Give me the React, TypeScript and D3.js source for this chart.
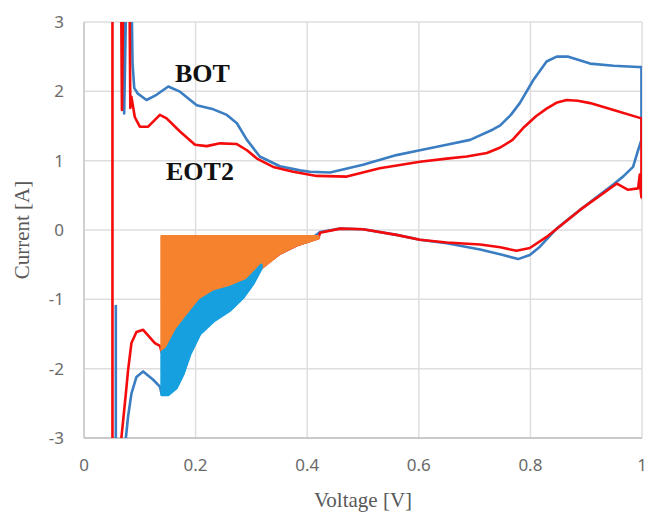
import React from "react";
import * as d3 from "d3";

// ---- Data ----
const xTicks = [0, 0.2, 0.4, 0.6, 0.8, 1];
const xTickLabels = ["0", "0.2", "0.4", "0.6", "0.8", "1"];
const yTicks = [-3, -2, -1, 0, 1, 2, 3];
const yTickLabels = ["-3", "-2", "-1", "0", "1", "2", "3"];

// EOT2 (red) full loop, trace order
const redV = [0.051, 0.051, 0.066, 0.068, 0.071, 0.081, 0.083, 0.085, 0.091, 0.1, 0.115, 0.136, 0.148, 0.172, 0.199, 0.22, 0.244, 0.274, 0.292, 0.31, 0.339, 0.375, 0.417, 0.471, 0.53, 0.602, 0.65, 0.686, 0.722, 0.746, 0.768, 0.787, 0.81, 0.829, 0.848, 0.865, 0.885, 0.907, 0.949, 0.999, 0.999, 0.997, 0.996, 0.993, 0.975, 0.955, 0.889, 0.829, 0.799, 0.775, 0.746, 0.71, 0.65, 0.602, 0.56, 0.5, 0.459, 0.423, 0.42, 0.381, 0.351, 0.321, 0.292, 0.262, 0.232, 0.208, 0.184, 0.166, 0.148, 0.139, 0.136, 0.127, 0.106, 0.094, 0.085, 0.079, 0.075, 0.067, 0.062];
const redI = [-4, 4, 4, 1.73, 4, 4, 1.76, 1.92, 1.63, 1.49, 1.49, 1.66, 1.61, 1.42, 1.23, 1.21, 1.25, 1.24, 1.15, 1.03, 0.91, 0.84, 0.78, 0.77, 0.89, 0.985, 1.03, 1.06, 1.11, 1.19, 1.3, 1.47, 1.64, 1.75, 1.84, 1.875, 1.865, 1.83, 1.73, 1.61, 0.47, 0.62, 0.8, 0.6, 0.58, 0.67, 0.29, -0.1, -0.26, -0.3, -0.25, -0.21, -0.18, -0.14, -0.07, 0.01, 0.02, -0.04, -0.12, -0.22, -0.34, -0.53, -0.72, -0.82, -0.89, -1.01, -1.25, -1.44, -1.71, -1.76, -1.67, -1.63, -1.44, -1.47, -1.63, -2.02, -2.36, -3.0, -4];

// BOT (blue): initial spike, then the full loop in trace order
const blueSpikeV = [0.057, 0.057];
const blueSpikeI = [-1.08, -4];
const blueV = [0.07, 0.072, 0.077, 0.084, 0.087, 0.09, 0.096, 0.112, 0.13, 0.151, 0.172, 0.202, 0.232, 0.256, 0.274, 0.292, 0.315, 0.351, 0.387, 0.405, 0.441, 0.5, 0.56, 0.602, 0.65, 0.692, 0.733, 0.746, 0.765, 0.781, 0.805, 0.829, 0.847, 0.868, 0.907, 0.949, 0.993, 0.999, 0.999, 0.993, 0.984, 0.966, 0.949, 0.889, 0.847, 0.817, 0.799, 0.778, 0.751, 0.71, 0.65, 0.602, 0.56, 0.5, 0.459, 0.423, 0.4, 0.381, 0.351, 0.33, 0.318, 0.303, 0.286, 0.262, 0.232, 0.208, 0.19, 0.178, 0.166, 0.151, 0.139, 0.136, 0.124, 0.106, 0.094, 0.085, 0.079, 0.075, 0.072];
const blueI = [4, 1.68, 4, 4, 2.4, 2.05, 1.97, 1.875, 1.95, 2.07, 1.995, 1.8, 1.74, 1.66, 1.54, 1.3, 1.06, 0.92, 0.86, 0.84, 0.83, 0.94, 1.08, 1.15, 1.23, 1.3, 1.45, 1.51, 1.66, 1.83, 2.16, 2.43, 2.5, 2.5, 2.4, 2.37, 2.35, 2.35, 1.3, 1.15, 0.91, 0.77, 0.66, 0.29, 0.02, -0.24, -0.36, -0.42, -0.36, -0.28, -0.19, -0.14, -0.07, 0.01, 0.02, -0.03, -0.17, -0.22, -0.34, -0.46, -0.55, -0.77, -0.96, -1.15, -1.3, -1.49, -1.78, -2.07, -2.26, -2.36, -2.36, -2.26, -2.16, -2.04, -2.12, -2.36, -2.69, -3.0, -4];

// Orange shaded region: between a flat top and the red cathodic branch
const orangeTopI = -0.09;
const orangeV = [0.42, 0.381, 0.351, 0.321, 0.292, 0.262, 0.232, 0.208, 0.184, 0.166, 0.148, 0.139];
const orangeI = [-0.12, -0.22, -0.34, -0.53, -0.72, -0.82, -0.89, -1.01, -1.25, -1.44, -1.71, -1.76];

// Blue shaded region: between red (upper) and blue (lower) cathodic branches
const shadeUpperV = [0.318, 0.292, 0.262, 0.232, 0.208, 0.184, 0.166, 0.148, 0.139];
const shadeUpperI = [-0.5, -0.72, -0.82, -0.89, -1.01, -1.25, -1.44, -1.71, -1.76];
const shadeLowerV = [0.139, 0.151, 0.166, 0.178, 0.19, 0.208, 0.232, 0.262, 0.286, 0.303, 0.318];
const shadeLowerI = [-2.38, -2.38, -2.28, -2.08, -1.8, -1.5, -1.32, -1.16, -0.97, -0.78, -0.55];

const labels = [
  { text: "BOT", v: 0.163, i: 2.14 },
  { text: "EOT2", v: 0.147, i: 0.72 },
];

const W = 648, H = 516;
const L = 84, R = 642, T = 22, B = 438;

export default function App() {
  const x = d3.scaleLinear().domain([0, 1]).range([L, R]);
  const y = d3.scaleLinear().domain([-3, 3]).range([B, T]);
  const line = d3.line<[number, number]>().x((d) => x(d[0])).y((d) => y(d[1]));
  const zip = (a: number[], b: number[]) => a.map((v, k) => [v, b[k]] as [number, number]);

  const redPts = zip(redV, redI);
  const bluePts = zip(blueV, blueI);
  const blueSpikePts = zip(blueSpikeV, blueSpikeI);
  const orangePts: [number, number][] = [
    [orangeV[orangeV.length - 1], orangeTopI],
    [orangeV[0], orangeTopI],
    ...zip(orangeV, orangeI),
  ];
  const shadePts: [number, number][] = [...zip(shadeUpperV, shadeUpperI), ...zip(shadeLowerV, shadeLowerI)];

  const tickFont = "'Noto Sans', 'DejaVu Sans', sans-serif";
  const serif = "'Liberation Serif', 'DejaVu Serif', serif";
  const blue = "#3a7dc2";
  const red = "#f40c0c";

  return (
    <svg width={W} height={H} style={{ position: "absolute", left: 0, top: 0, background: "#fff" }}>
      <defs>
        <clipPath id="plot">
          <rect x={L} y={T} width={R - L} height={B - T} />
        </clipPath>
      </defs>
      {/* grid */}
      {yTicks.map((t) => (
        <line key={"gy" + t} x1={L} x2={R} y1={y(t)} y2={y(t)} stroke="#dedede" strokeWidth={1.5} />
      ))}
      {xTicks.map((t) => (
        <line key={"gx" + t} x1={x(t)} x2={x(t)} y1={T} y2={B} stroke="#dedede" strokeWidth={1.5} />
      ))}
      <line x1={L} x2={L} y1={T} y2={B} stroke="#c8c8c8" strokeWidth={1.5} />
      <line x1={L} x2={R} y1={B} y2={B} stroke="#bfbfbf" strokeWidth={1.5} />

      <g clipPath="url(#plot)">
        <path d={line(blueSpikePts) || ""} fill="none" stroke={blue} strokeWidth={2.6} />
        <path d={line(bluePts) || ""} fill="none" stroke={blue} strokeWidth={2.6} strokeLinejoin="round" />
        <path d={line(redPts) || ""} fill="none" stroke={red} strokeWidth={2.6} strokeLinejoin="round" />
        <path d={(line(orangePts) || "") + "Z"} fill="#f7822e" stroke="#f7822e" strokeWidth={2.5} strokeLinejoin="round" />
        <path d={(line(shadePts) || "") + "Z"} fill="#17a0e0" stroke="#17a0e0" strokeWidth={2.5} strokeLinejoin="round" />
      </g>

      {/* tick labels */}
      {yTicks.map((t, k) => (
        <text key={"yl" + t} x={64} y={y(t) + 6} textAnchor="end" fontFamily={tickFont} fontSize={17} fill="#6a6a6a">
          {yTickLabels[k]}
        </text>
      ))}
      {xTicks.map((t, k) => (
        <text key={"xl" + t} x={x(t)} y={471} textAnchor="middle" fontFamily={tickFont} fontSize={17} fill="#6a6a6a">
          {xTickLabels[k]}
        </text>
      ))}

      {/* axis titles */}
      <text x={363} y={507} textAnchor="middle" fontFamily={serif} fontSize={21} fill="#595959">
        Voltage [V]
      </text>
      <text
        transform={`translate(29, 230) rotate(-90)`}
        textAnchor="middle"
        fontFamily={serif}
        fontSize={21}
        fill="#595959"
      >
        Current [A]
      </text>

      {/* series labels */}
      {labels.map((lb) => (
        <text key={lb.text} x={x(lb.v)} y={y(lb.i)} fontFamily={serif} fontWeight="bold" fontSize={26} fill="#111">
          {lb.text}
        </text>
      ))}
    </svg>
  );
}
